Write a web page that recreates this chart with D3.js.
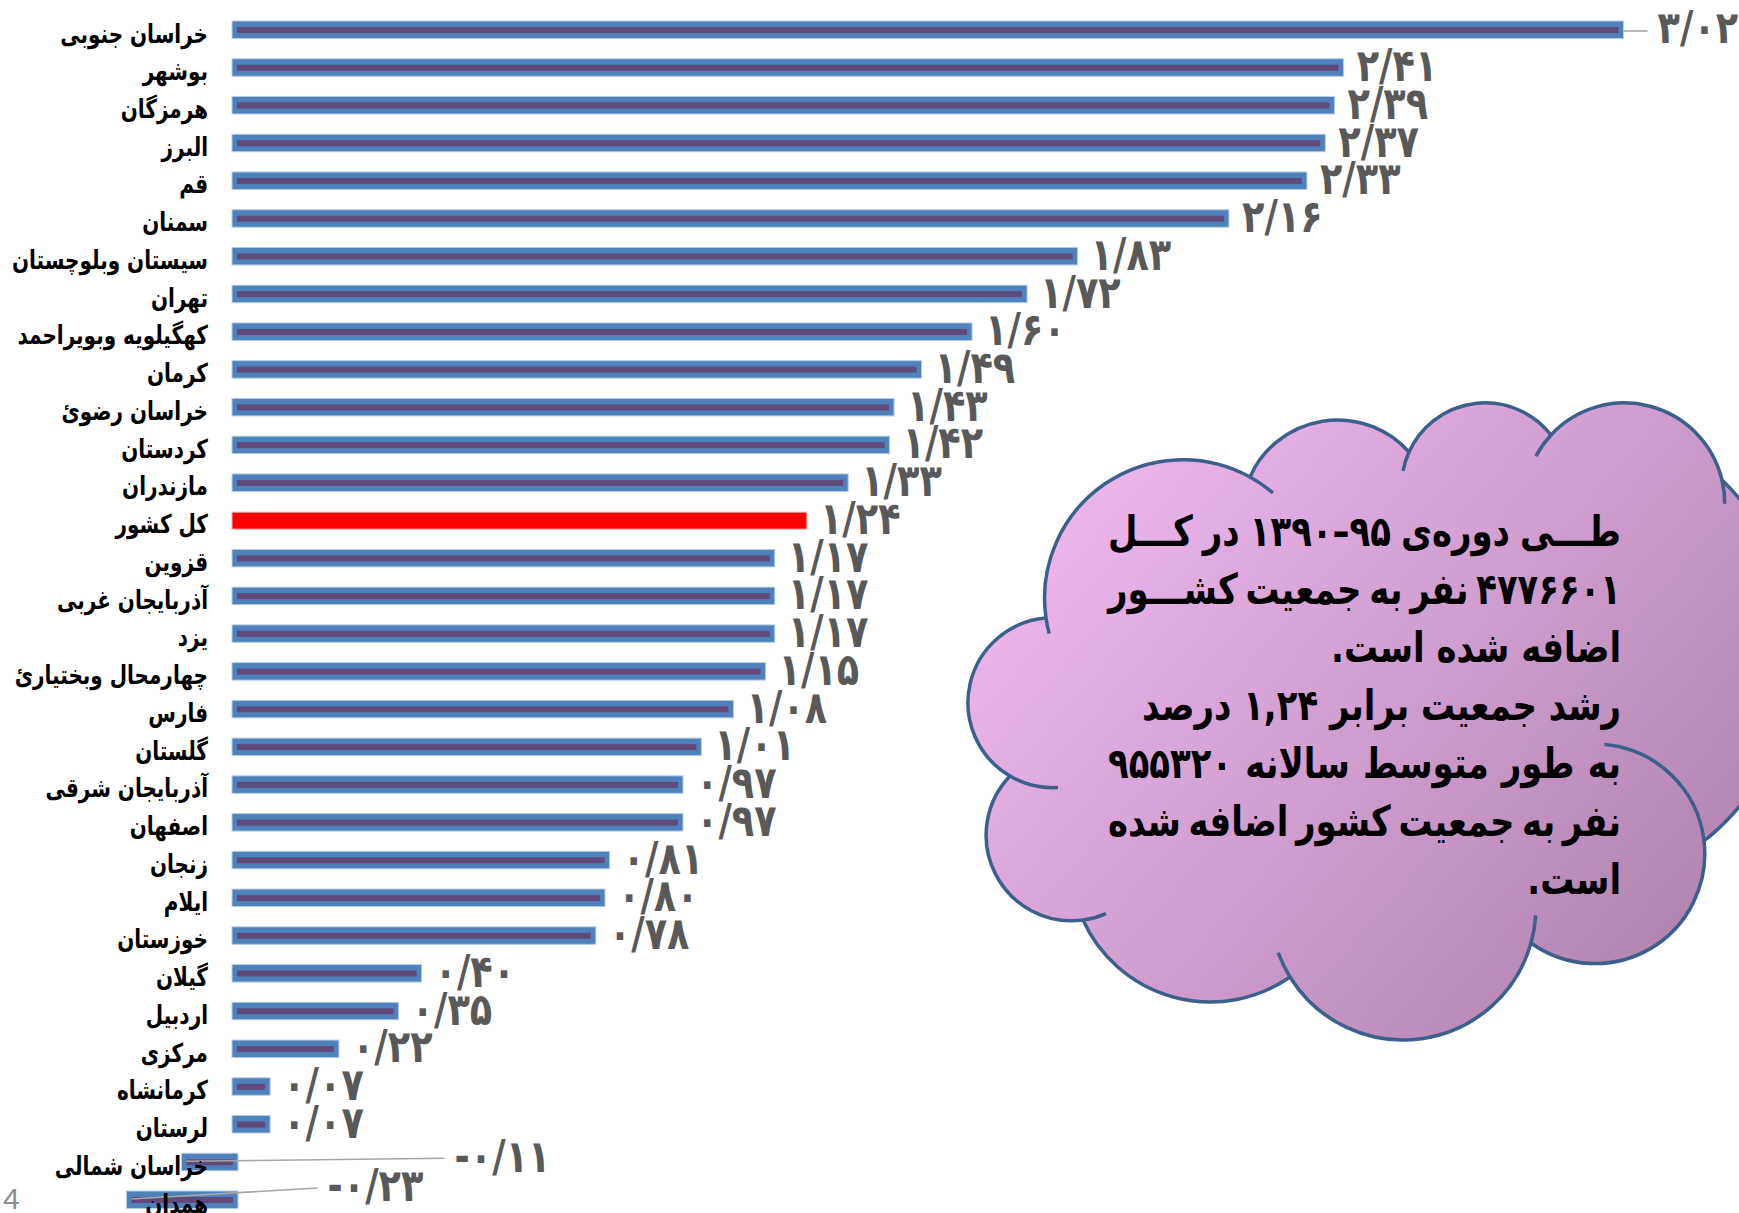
<!DOCTYPE html>
<html><head><meta charset="utf-8">
<script src="https://cdn.jsdelivr.net/npm/d3@7"></script>
<style>
html,body{margin:0;padding:0;background:#fff;overflow:hidden}
svg{display:block}
</style></head><body>
<svg id="chart" width="1739" height="1213"></svg>
<script>
// ---------- data ----------
const provinces = ["خراسان جنوبی","بوشهر","هرمزگان","البرز","قم","سمنان","سیستان وبلوچستان","تهران","کهگیلویه وبویراحمد","کرمان","خراسان رضوئ","کردستان","مازندران","کل کشور","قزوین","آذربایجان غربی","یزد","چهارمحال وبختیارئ","فارس","گلستان","آذربایجان شرقی","اصفهان","زنجان","ایلام","خوزستان","گیلان","اردبیل","مرکزی","کرمانشاه","لرستان","خراسان شمالی","همدان"];
const growthRates = [3.02,2.41,2.39,2.37,2.33,2.16,1.83,1.72,1.60,1.49,1.43,1.42,1.33,1.24,1.17,1.17,1.17,1.15,1.08,1.01,0.97,0.97,0.81,0.80,0.78,0.40,0.35,0.22,0.07,0.07,-0.11,-0.23];
const highlight = "کل کشور";
const calloutLines = ["طـــی دوره‌ی ۹۵–۱۳۹۰ در کـــل","۴۷۷۶۶۰۱ نفر به جمعیت کشـــور","اضافه شده است.","رشد جمعیت برابر ۱,۲۴ درصد","به طور متوسط سالانه ۹۵۵۳۲۰","نفر به جمعیت کشور اضافه شده","است."];
const calloutJustify = [true,true,false,false,true,true,false];
const pageNumber = "4";

// ---------- setup ----------
const svg = d3.select("#chart");
const x = d3.scaleLinear().domain([0, 3.02]).range([235, 1620.5]);
const y = d3.scalePoint().domain(provinces).range([30, 1200]);
const rows = provinces.map((p, i) => ({name: p, v: growthRates[i], i}));

const faDigits = "۰۱۲۳۴۵۶۷۸۹";
const fa = s => s.replace(/[0-9]/g, d => faDigits[+d]);
const fmt = v => (v < 0 ? "-" : "") + fa(Math.abs(v).toFixed(2).replace(".", "/"));

// ---------- bars ----------
const gBars = svg.append("g");
rows.forEach(d => {
  const x0 = Math.min(x(0), x(d.v)), x1 = Math.max(x(0), x(d.v));
  const cy = y(d.name);
  if (d.name === highlight) {
    gBars.append("rect").attr("x", x0 - 3).attr("y", cy - 8.5).attr("width", x1 - x0 + 6).attr("height", 17)
      .attr("fill", "#FF0000").attr("stroke", "#F7B5B5").attr("stroke-width", 1);
  } else {
    gBars.append("rect").attr("x", x0 - 3).attr("y", cy - 9).attr("width", x1 - x0 + 6).attr("height", 17.5)
      .attr("fill", "#4F81BD").attr("stroke", "#B9CDE5").attr("stroke-width", 1);
    gBars.append("rect").attr("x", x0 + 2).attr("y", cy - 3).attr("width", Math.max(0, x1 - x0 - 4)).attr("height", 6)
      .attr("fill", "#604A7B");
  }
});

// ---------- value labels ----------
const nudge = {0: {dx: 37, dy: -2}, 30: {dx: 270, dy: -6}, 31: {dx: 198, dy: -14}};
const gVals = svg.append("g");
rows.forEach(d => {
  const cy = y(d.name);
  const n = nudge[d.i];
  const lx = n ? x(d.v) + n.dx : x(d.v) + 16;
  const ly = n ? cy + n.dy : cy - 2;
  if (n) {
    const sx = d.v < 0 ? x(d.v) + 2 : x(d.v) + 3;
    gVals.append("line").attr("x1", sx).attr("y1", cy + (d.v < 0 ? -1 : 1))
      .attr("x2", lx - 10).attr("y2", ly + (d.v < 0 ? 2 : 3))
      .attr("stroke", "#A6A6A6").attr("stroke-width", 1.6);
  }
  gVals.append("text").attr("transform", `translate(${lx},${ly}) scale(1.05,1.28)`)
    .attr("dominant-baseline", "central").attr("text-anchor", "start")
    .attr("direction", "ltr")
    .attr("font-family", "DejaVu Sans").attr("font-weight", "bold").attr("font-size", 35)
    .attr("fill", "#595959").text(fmt(d.v));
});

// ---------- category labels ----------
const gCats = svg.append("g");
rows.forEach(d => {
  gCats.append("text").attr("transform", `translate(208,${y(d.name) + 3}) scale(1,1.3)`)
    .attr("dominant-baseline", "central").attr("text-anchor", "end")
    .attr("font-family", "DejaVu Sans").attr("font-weight", "bold").attr("font-size", 20)
    .attr("fill", "#000").text(d.name);
});

// ---------- cloud callout ----------
const defs = svg.append("defs");
const grad = defs.append("linearGradient").attr("id", "cloudGrad")
  .attr("gradientUnits", "userSpaceOnUse").attr("x1", 1000).attr("y1", 430).attr("x2", 1700).attr("y2", 1040);
grad.append("stop").attr("offset", "0").attr("stop-color", "#F4BCF4");
grad.append("stop").attr("offset", "1").attr("stop-color", "#AC80AA");

const cusps = [[1046,618],[1250,477],[1409,452],[1551,435],[1722,480],[1704,841],[1531,943],[1290,977],[1083,920],[1010,776]];
const mids  = [[1116,477],[1337,420],[1490,403],[1628,403],[1795,660],[1653,947],[1404,1040],[1210,1002],[988,853],[968,700]];
function circ(p1, p2, p3) {
  const [ax, ay] = p1, [bx, by] = p2, [cx, cy] = p3;
  const dd = 2 * (ax * (by - cy) + bx * (cy - ay) + cx * (ay - by));
  const ux = ((ax*ax+ay*ay)*(by-cy) + (bx*bx+by*by)*(cy-ay) + (cx*cx+cy*cy)*(ay-by)) / dd;
  const uy = ((ax*ax+ay*ay)*(cx-bx) + (bx*bx+by*by)*(ax-cx) + (cx*cx+cy*cy)*(bx-ax)) / dd;
  return {cx: ux, cy: uy, r: Math.hypot(ax - ux, ay - uy)};
}
const TAU = Math.PI * 2;
const norm = a => ((a % TAU) + TAU) % TAU;
const bumps = cusps.map((c, i) => {
  const p1 = c, p2 = mids[i], p3 = cusps[(i + 1) % cusps.length];
  const k = circ(p1, p2, p3);
  const a1 = Math.atan2(p1[1] - k.cy, p1[0] - k.cx);
  const a2 = Math.atan2(p2[1] - k.cy, p2[0] - k.cx);
  const a3 = Math.atan2(p3[1] - k.cy, p3[0] - k.cx);
  const inc = norm(a2 - a1) < norm(a3 - a1);
  const span = inc ? norm(a3 - a1) : norm(a1 - a3);
  return {p1, p3, ...k, a1, a3, dir: inc ? 1 : -1, span};
});
let dPath = `M${cusps[0][0]},${cusps[0][1]}`;
bumps.forEach(b => {
  dPath += `A${b.r},${b.r} 0 ${b.span > Math.PI ? 1 : 0} ${b.dir > 0 ? 1 : 0} ${b.p3[0]},${b.p3[1]}`;
});
dPath += "Z";
svg.append("path").attr("d", dPath).attr("fill", "url(#cloudGrad)")
  .attr("stroke", "#3C5F8C").attr("stroke-width", 3.5).attr("stroke-linejoin", "round");

// inner stubs: [bump index, at 's'tart or 'e'nd, length]
const stubs = [[0,"s",16],[0,"e",28],[2,"s",20],[3,"s",26],[3,"e",24],[5,"s",150],[6,"s",28],[6,"e",27],[8,"s",24],[9,"s",50]];
stubs.forEach(([bi, end, len]) => {
  const b = bumps[bi];
  const da = len / b.r;
  let aS, aE, sweep;
  if (end === "s") { aS = b.a1; aE = b.a1 - b.dir * da; sweep = b.dir > 0 ? 0 : 1; }
  else { aS = b.a3; aE = b.a3 + b.dir * da; sweep = b.dir > 0 ? 1 : 0; }
  const P = a => [b.cx + b.r * Math.cos(a), b.cy + b.r * Math.sin(a)];
  const s = P(aS), e = P(aE);
  svg.append("path").attr("d", `M${s[0]},${s[1]}A${b.r},${b.r} 0 0 ${sweep} ${e[0]},${e[1]}`)
    .attr("fill", "none").attr("stroke", "#3C5F8C").attr("stroke-width", 3.5);
});

// callout text
const gTxt = svg.append("g").attr("font-family", "DejaVu Sans").attr("font-weight", "bold").attr("fill", "#000");
const right = 1621, left = 1108, lineW = right - left;
const base0 = 546, lh = 58, sy = 1.25;
let fs = 36;
function measure(str, size) {
  const t = gTxt.append("text").attr("font-size", size).attr("direction", "rtl").text(str);
  const w = t.node().getComputedTextLength(); t.remove(); return w;
}
let maxW = 0;
calloutLines.forEach((ln, i) => {
  const words = ln.split(" ");
  const w = calloutJustify[i] ? d3.sum(words, wd => measure(wd, fs)) + (words.length - 1) * 8 : measure(ln, fs);
  maxW = Math.max(maxW, w);
});
if (maxW > lineW) fs = fs * lineW / maxW;
calloutLines.forEach((ln, i) => {
  const by = base0 + i * lh;
  if (calloutJustify[i]) {
    const words = ln.split(" ");
    const ws = words.map(wd => measure(wd, fs));
    const gap = (lineW - d3.sum(ws)) / (words.length - 1);
    let xr = right;
    words.forEach((wd, j) => {
      gTxt.append("text").attr("font-size", fs).attr("direction", "rtl").attr("text-anchor", "middle")
        .attr("transform", `translate(${xr - ws[j] / 2},${by}) scale(1,${sy})`).text(wd);
      xr -= ws[j] + gap;
    });
  } else {
    const w = measure(ln, fs);
    gTxt.append("text").attr("font-size", fs).attr("direction", "rtl").attr("text-anchor", "middle")
      .attr("transform", `translate(${right - w / 2},${by}) scale(1,${sy})`).text(ln + "\u200F");
  }
});

// page number
svg.append("text").attr("x", 3).attr("y", 1209).attr("font-family", "Liberation Sans").attr("font-size", 30)
  .attr("fill", "#8C8C8C").text(pageNumber);
</script>
</body></html>
